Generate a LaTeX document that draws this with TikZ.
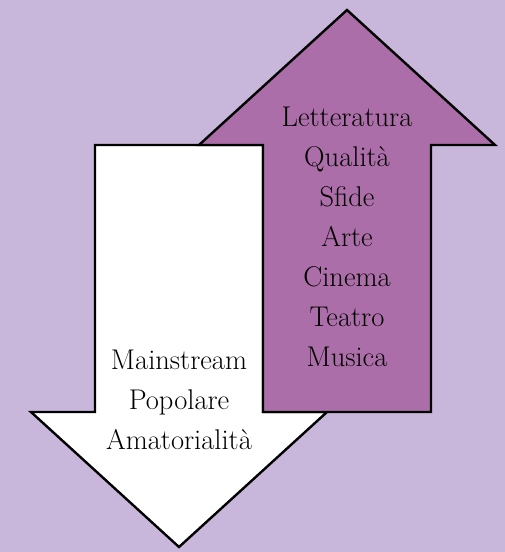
\documentclass[tikz,border=0pt]{standalone}
\usepackage{xcolor}
\usepackage{tikz}
\usetikzlibrary{calc}
\definecolor{sfondo}{RGB}{200,183,218}
\definecolor{viola}{RGB}{172,110,168}

\begin{document}
\begin{tikzpicture}[x=1pt, y=-1pt, line width=2.4pt, line join=miter,
  freccia/.style={draw=black},
  voce/.style={anchor=base, inner sep=0pt, font=\fontsize{28.5}{40}\selectfont}]
  \fill[sfondo] (0,0) rectangle (505,552);
  \useasboundingbox (0,0) rectangle (505,552);
  \pgfmathsetmacro{\hw}{148}
  % freccia bianca, verso il basso
  \coordinate (B) at (179,547);
  \draw[freccia, fill=white] (95,145) -- (263,145) -- (263,412) -- ($(B)+(\hw,-135)$)
    -- (B) -- ($(B)+(-\hw,-135)$) -- (95,412) -- cycle;
  % freccia viola, verso l'alto
  \coordinate (A) at (347,10);
  \draw[freccia, fill=viola] (263,412) -- (263,145) -- ($(A)+(-\hw,135)$) -- (A)
    -- ($(A)+(\hw,135)$) -- (431,145) -- (431,412) -- cycle;
  \foreach \t [count=\i] in {Letteratura,Qualità,Sfide,Arte,Cinema,Teatro,Musica}
    \node[voce] (su\i) at (347,{126+40*(\i-1)}) {\t};
  \foreach \t [count=\i] in {Mainstream,Popolare,Amatorialità}
    \node[voce] (giu\i) at (179,{369+40*(\i-1)}) {\t};
\end{tikzpicture}
\end{document}
